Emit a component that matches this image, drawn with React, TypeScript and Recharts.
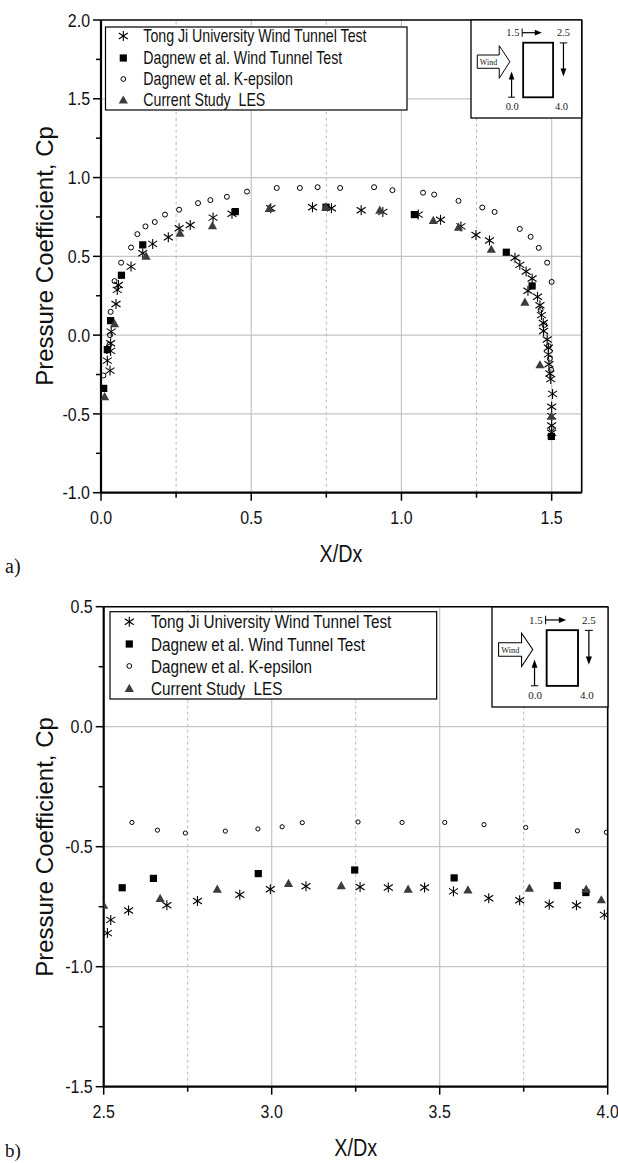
import React from 'react';
import { ScatterChart, Scatter, XAxis, YAxis, ReferenceLine } from 'recharts';

type Pt = [number, number];

const seriesNames = [
  'Tong Ji University Wind Tunnel Test',
  'Dagnew et al. Wind Tunnel Test',
  'Dagnew et al. K-epsilon',
  'Current Study  LES',
];

// a) windward face + side, X/Dx 0.0 -> 1.5
const tongJiA: Pt[] = [
  [0.021, -0.162], [0.03, -0.225], [0.032, -0.1], [0.032, -0.051], [0.034, 0.022],
  [0.05, 0.198], [0.054, 0.287], [0.058, 0.318], [0.1, 0.435], [0.139, 0.52],
  [0.172, 0.579], [0.224, 0.621], [0.26, 0.678], [0.297, 0.699], [0.373, 0.746],
  [0.436, 0.77], [0.565, 0.805], [0.704, 0.812], [0.767, 0.805], [0.866, 0.793],
  [0.938, 0.782], [1.056, 0.765], [1.13, 0.732], [1.198, 0.69], [1.248, 0.636],
  [1.293, 0.601], [1.378, 0.491], [1.394, 0.446], [1.415, 0.404], [1.435, 0.359],
  [1.421, 0.282], [1.453, 0.244], [1.461, 0.19], [1.466, 0.127], [1.472, 0.077],
  [1.473, 0.026], [1.485, -0.028], [1.489, -0.08], [1.489, -0.122], [1.491, -0.185],
  [1.494, -0.244], [1.497, -0.279], [1.503, -0.373], [1.5, -0.455], [1.5, -0.514],
  [1.5, -0.573], [1.5, -0.62],
];
const dagnewWtA: Pt[] = [
  [0.009, -0.338], [0.021, -0.092], [0.032, 0.092], [0.068, 0.38], [0.139, 0.573],
  [0.447, 0.784], [0.749, 0.812], [1.043, 0.765], [1.349, 0.526], [1.435, 0.312],
  [1.499, -0.643],
];
const kEpsA: Pt[] = [
  [0.008, -0.256], [0.028, -0.06], [0.03, 0.0], [0.032, 0.148], [0.045, 0.343],
  [0.067, 0.46], [0.1, 0.556], [0.121, 0.641], [0.148, 0.69], [0.179, 0.718],
  [0.213, 0.765], [0.26, 0.796], [0.323, 0.838], [0.364, 0.857], [0.419, 0.878],
  [0.486, 0.911], [0.585, 0.934], [0.662, 0.934], [0.721, 0.939], [0.796, 0.934],
  [0.909, 0.939], [0.97, 0.92], [1.072, 0.904], [1.109, 0.892], [1.19, 0.852],
  [1.269, 0.81], [1.31, 0.782], [1.394, 0.674], [1.43, 0.624], [1.457, 0.554],
  [1.485, 0.46], [1.5, 0.338], [1.463, 0.16], [1.476, 0.065], [1.49, -0.07],
  [1.494, -0.15], [1.498, -0.22], [1.5, -0.59],
];
const lesA: Pt[] = [
  [0.012, -0.39], [0.045, 0.073], [0.15, 0.502], [0.263, 0.648], [0.371, 0.695],
  [0.56, 0.805], [0.748, 0.812], [0.928, 0.793], [1.106, 0.728], [1.19, 0.685],
  [1.299, 0.545], [1.411, 0.209], [1.461, -0.188], [1.499, -0.514],
];

// b) leeward face, X/Dx 2.5 -> 4.0
const tongJiB: Pt[] = [
  [2.511, -0.86], [2.521, -0.805], [2.574, -0.766], [2.688, -0.744], [2.779, -0.726],
  [2.905, -0.7], [2.996, -0.677], [3.102, -0.665], [3.263, -0.668], [3.347, -0.67],
  [3.455, -0.67], [3.541, -0.686], [3.646, -0.715], [3.738, -0.723], [3.826, -0.741],
  [3.907, -0.744], [3.99, -0.784],
];
const dagnewWtB: Pt[] = [
  [2.555, -0.671], [2.648, -0.632], [2.96, -0.612], [3.247, -0.597], [3.543, -0.63],
  [3.85, -0.662], [3.935, -0.691],
];
const kEpsB: Pt[] = [
  [2.584, -0.399], [2.66, -0.431], [2.743, -0.443], [2.862, -0.435], [2.959, -0.426],
  [3.031, -0.417], [3.091, -0.4], [3.257, -0.397], [3.388, -0.399], [3.515, -0.399],
  [3.632, -0.408], [3.756, -0.42], [3.91, -0.434], [3.996, -0.44],
];
const lesB: Pt[] = [
  [2.5, -0.744], [2.668, -0.715], [2.838, -0.677], [3.05, -0.653], [3.207, -0.662],
  [3.406, -0.677], [3.584, -0.68], [3.767, -0.673], [3.936, -0.677], [3.981, -0.721],
];

const xTicksA = [0, 0.25, 0.5, 0.75, 1, 1.25, 1.5];
const yTicksA = [-1, -0.75, -0.5, -0.25, 0, 0.25, 0.5, 0.75, 1, 1.25, 1.5, 1.75, 2];
const xTicksB = [2.5, 2.75, 3, 3.25, 3.5, 3.75, 4];
const yTicksB = [-1.5, -1.25, -1, -0.75, -0.5, -0.25, 0, 0.25, 0.5];

const SANS = "'Liberation Sans', Arial, sans-serif";
const SERIF = "'Liberation Serif', 'Times New Roman', serif";

const toObj = (pts: Pt[]) => pts.map(([x, y]) => ({ x, y }));
const isMajor = (v: number) => Math.abs(v * 2 - Math.round(v * 2)) < 1e-6;

const Star = ({ cx, cy }: any) => (
  <g stroke="#000" strokeWidth={1.1}>
    <line x1={cx} y1={cy - 5} x2={cx} y2={cy + 5} />
    <line x1={cx - 4.5} y1={cy - 3} x2={cx + 4.5} y2={cy + 3} />
    <line x1={cx - 4.5} y1={cy + 3} x2={cx + 4.5} y2={cy - 3} />
  </g>
);
const Square = ({ cx, cy }: any) => (
  <rect x={cx - 3.6} y={cy - 3.6} width={7.2} height={7.2} fill="#000" />
);
const makeCircle = (r: number) => ({ cx, cy }: any) => (
  <circle cx={cx} cy={cy} r={r} fill="none" stroke="#000" strokeWidth={1} />
);
const Triangle = ({ cx, cy }: any) => (
  <polygon
    points={`${cx},${cy - 4.6} ${cx + 4.6},${cy + 3.6} ${cx - 4.6},${cy + 3.6}`}
    fill="#3c3c3c"
  />
);

const XTick = ({ x, y, payload }: any) => {
  const v = payload.value;
  const major = isMajor(v);
  return (
    <g>
      <line x1={x} y1={y} x2={x} y2={y + (major ? 8 : 5)} stroke="#000" strokeWidth={1.5} />
      {major && (
        <text
          transform={`translate(${x},${y + 31}) scale(0.84,1)`}
          textAnchor="middle"
          fontSize={19}
          fontFamily={SANS}
          fill="#111"
        >
          {v.toFixed(1)}
        </text>
      )}
    </g>
  );
};

const YTick = ({ x, y, payload }: any) => {
  const v = payload.value;
  const major = isMajor(v);
  return (
    <g>
      <line x1={x} y1={y} x2={x - (major ? 8 : 5)} y2={y} stroke="#000" strokeWidth={1.5} />
      {major && (
        <text
          transform={`translate(${x - 11},${y + 6.7}) scale(0.84,1)`}
          textAnchor="end"
          fontSize={19}
          fontFamily={SANS}
          fill="#111"
        >
          {v.toFixed(1)}
        </text>
      )}
    </g>
  );
};

type PanelProps = {
  top: number;
  height: number;
  margin: { top: number; right: number; bottom: number; left: number };
  xDomain: [number, number];
  yDomain: [number, number];
  xTicks: number[];
  yTicks: number[];
  solidX: number[];
  dashedX: number[];
  solidY: number[];
  tongJi: Pt[];
  dagnew: Pt[];
  kEps: Pt[];
  les: Pt[];
  circleR: number;
};

function Panel(p: PanelProps) {
  const Circ = makeCircle(p.circleR);
  return (
    <div style={{ position: 'absolute', left: 0, top: p.top }}>
      <ScatterChart width={618} height={p.height} margin={p.margin}>
        <XAxis
          type="number"
          dataKey="x"
          domain={p.xDomain}
          ticks={p.xTicks}
          interval={0}
          allowDataOverflow
          height={30}
          tickSize={0}
          tickMargin={0}
          tickLine={false}
          tick={<XTick />}
          axisLine={{ stroke: '#000', strokeWidth: 2.2 }}
        />
        <YAxis
          type="number"
          dataKey="y"
          domain={p.yDomain}
          ticks={p.yTicks}
          interval={0}
          allowDataOverflow
          width={60}
          tickSize={0}
          tickMargin={0}
          tickLine={false}
          tick={<YTick />}
          axisLine={{ stroke: '#000', strokeWidth: 2.2 }}
        />
        {p.solidY.map((v) => (
          <ReferenceLine key={'hy' + v} y={v} stroke="#c4c4c4" strokeWidth={1.2} />
        ))}
        {p.solidX.map((v) => (
          <ReferenceLine key={'sx' + v} x={v} stroke="#c4c4c4" strokeWidth={1.2} />
        ))}
        {p.dashedX.map((v) => (
          <ReferenceLine key={'dx' + v} x={v} stroke="#b8b8b8" strokeWidth={1} strokeDasharray="3 3" />
        ))}
        <ReferenceLine y={p.yDomain[1]} stroke="#000" strokeWidth={1.6} />
        <ReferenceLine x={p.xDomain[1]} stroke="#000" strokeWidth={1.6} />
        <Scatter name={seriesNames[0]} data={toObj(p.tongJi)} shape={Star} isAnimationActive={false} />
        <Scatter name={seriesNames[1]} data={toObj(p.dagnew)} shape={Square} isAnimationActive={false} />
        <Scatter name={seriesNames[2]} data={toObj(p.kEps)} shape={Circ} isAnimationActive={false} />
        <Scatter name={seriesNames[3]} data={toObj(p.les)} shape={Triangle} isAnimationActive={false} />
      </ScatterChart>
    </div>
  );
}

const legendIcons = [Star, Square, makeCircle(2.4), Triangle];

function LegendBox({ x, y, w, h, rows, symX, textX, fs, sx }: any) {
  return (
    <g>
      <rect x={x} y={y} width={w} height={h} fill="#fff" stroke="#000" strokeWidth={1.2} />
      {seriesNames.map((name, i) => {
        const Icon = legendIcons[i];
        return (
          <g key={name}>
            <Icon cx={symX} cy={rows[i]} />
            <text
              transform={`translate(${textX},${rows[i] + fs * 0.36}) scale(${sx},1)`}
              fontSize={fs}
              fontFamily={SANS}
              fill="#111"
              xmlSpace="preserve"
            >
              {name}
            </text>
          </g>
        );
      })}
    </g>
  );
}

// small sketch of the building section with the measurement path
function Inset({ x, y, w, h }: any) {
  const sx = w / 111;
  const sy = h / 98;
  const t = { fontSize: 10.5, fontFamily: SERIF, fill: '#222', textAnchor: 'middle' as const };
  return (
    <g>
      <rect x={x} y={y} width={w} height={h} fill="#fff" stroke="#000" strokeWidth={1.3} />
      <g transform={`translate(${x},${y}) scale(${sx},${sy})`} stroke="#000" fill="none">
        <text x={42} y={16.5} {...t} stroke="none">1.5</text>
        <line x1={51.3} y1={8.5} x2={51.3} y2={16.8} strokeWidth={1} />
        <line x1={51.3} y1={12.7} x2={65} y2={12.7} strokeWidth={1.2} />
        <polygon points="64,9.8 71,12.7 64,15.6" fill="#000" stroke="none" />
        <text x={92.7} y={16.5} {...t} stroke="none">2.5</text>
        <rect x={52.3} y={22.7} width={30} height={54.6} strokeWidth={1.8} />
        <line x1={89} y1={22.9} x2={96.5} y2={22.9} strokeWidth={1} />
        <line x1={92.7} y1={22.9} x2={92.7} y2={50} strokeWidth={1.2} />
        <polygon points="89.8,48.5 95.6,48.5 92.7,56.5" fill="#000" stroke="none" />
        <polygon
          points="6.3,35 28.3,35 28.3,25.7 39,41.7 28.3,58.3 28.3,48.3 6.3,48.3"
          strokeWidth={1}
          fill="#fff"
        />
        <text x={17.5} y={45} fontSize={8} fontFamily={SERIF} textAnchor="middle" fill="#222" stroke="none">
          Wind
        </text>
        <line x1={37.2} y1={77.2} x2={44.2} y2={77.2} strokeWidth={1} />
        <line x1={40.7} y1={77.2} x2={40.7} y2={58} strokeWidth={1.2} />
        <polygon points="37.9,59.5 43.5,59.5 40.7,51.5" fill="#000" stroke="none" />
        <text x={41.3} y={90} {...t} stroke="none">0.0</text>
        <text x={90.7} y={90} {...t} stroke="none">4.0</text>
      </g>
    </g>
  );
}

export default function App() {
  return (
    <div style={{ position: 'absolute', left: 0, top: 0, width: 618, height: 1163, background: '#fff', overflow: 'hidden' }}>
      <Panel
        top={0}
        height={590}
        margin={{ top: 20, right: 36.3, bottom: 67.3, left: 41 }}
        xDomain={[0, 1.6]}
        yDomain={[-1, 2]}
        xTicks={xTicksA}
        yTicks={yTicksA}
        solidX={[0.5, 1, 1.5]}
        dashedX={[0.25, 0.75, 1.25]}
        solidY={[-0.5, 0, 0.5, 1, 1.5]}
        tongJi={tongJiA}
        dagnew={dagnewWtA}
        kEps={kEpsA}
        les={lesA}
        circleR={2.5}
      />
      <Panel
        top={590}
        height={573}
        margin={{ top: 16.7, right: 10.3, bottom: 46.3, left: 43.7 }}
        xDomain={[2.5, 4]}
        yDomain={[-1.5, 0.5]}
        xTicks={xTicksB}
        yTicks={yTicksB}
        solidX={[3, 3.5]}
        dashedX={[2.75, 3.25, 3.75]}
        solidY={[-1, -0.5, 0]}
        tongJi={tongJiB}
        dagnew={dagnewWtB}
        kEps={kEpsB}
        les={lesB}
        circleR={2.1}
      />
      <svg width={618} height={1163} style={{ position: 'absolute', left: 0, top: 0, pointerEvents: 'none' }}>
        <LegendBox x={105.5} y={27} w={301.5} h={83} rows={[36, 58, 79, 100]} symX={123.3} textX={143.3} fs={17.5} sx={0.81} />
        <Inset x={471} y={20} w={110.7} h={98} />
        <text transform="translate(53,256) rotate(-90)" textAnchor="middle" fontSize={24} fontFamily={SANS} fill="#111">
          Pressure Coefficient, Cp
        </text>
        <text transform="translate(341,562) scale(0.86,1)" textAnchor="middle" fontSize={23} fontFamily={SANS} fill="#111">
          X/Dx
        </text>
        <text x={5} y={573} fontSize={20} fontFamily={SERIF} fill="#111">a)</text>

        <LegendBox x={110} y={611.7} w={326.7} h={87.3} rows={[621.7, 644, 666, 688.3]} symX={129.3} textX={151} fs={18.5} sx={0.825} />
        <Inset x={492} y={607} w={116} h={100} />
        <text transform="translate(53,847) rotate(-90)" textAnchor="middle" fontSize={24} fontFamily={SANS} fill="#111">
          Pressure Coefficient, Cp
        </text>
        <text transform="translate(355.7,1156) scale(0.86,1)" textAnchor="middle" fontSize={23} fontFamily={SANS} fill="#111">
          X/Dx
        </text>
        <text x={5} y={1157} fontSize={19} fontFamily={SERIF} fill="#111">b)</text>
      </svg>
    </div>
  );
}
